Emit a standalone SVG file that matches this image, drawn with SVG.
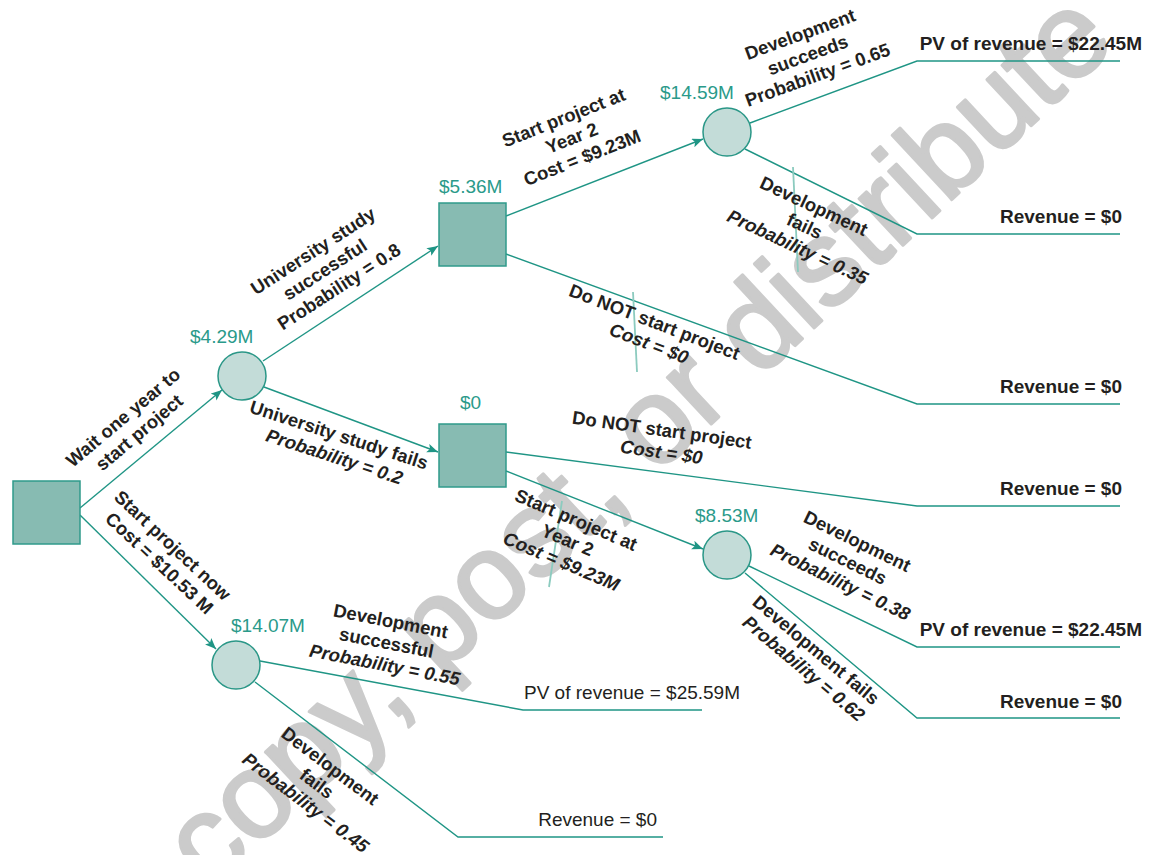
<svg xmlns="http://www.w3.org/2000/svg" width="1152" height="855" viewBox="0 0 1152 855">
  <style>
    .wm { font: 121px 'Liberation Sans', Arial, sans-serif; fill: #cbcbcb; stroke: #cbcbcb; stroke-width: 3; stroke-linejoin: round; text-anchor: middle; }
    .edge { fill: none; stroke: #1f9585; stroke-width: 1.4; }
    .arrow { marker-end: url(#head); }
    .stray { stroke: #8ccbbf; stroke-width: 1.8; }
    .dec { fill: #87bbb2; stroke: #2f9a8b; stroke-width: 1.5; }
    .chance { fill: #c3dcd8; stroke: #2a9787; stroke-width: 1.5; }
    .val { font: 19px 'Liberation Sans', Arial, sans-serif; fill: #2a9a8a; }
    .lbl { font: bold 18.5px 'Liberation Sans', Arial, sans-serif; fill: #231f20; text-anchor: middle; }
    .it { font-style: italic; }
    .pay { font: bold 19px 'Liberation Sans', Arial, sans-serif; fill: #231f20; text-anchor: end; }
    .payr { font: 19px 'Liberation Sans', Arial, sans-serif; fill: #231f20; }
  </style>
  <defs>
    <marker id="head" markerUnits="userSpaceOnUse" markerWidth="12" markerHeight="10" refX="11" refY="4.5" orient="auto">
      <path d="M0,0 L11,4.5 L0,9 L2.5,4.5 Z" fill="#1f9585"/>
    </marker>
  </defs>

  <rect width="1152" height="855" fill="#ffffff"/>

  <!-- background notice -->
  <text class="wm" transform="translate(664,468) rotate(-43)">copy, post, or distribute</text>

  <!-- connectors -->
  <g id="connectors">
    <path class="edge arrow" d="M80,508 L222,390"/>
    <path class="edge arrow" d="M80,515 L216,649"/>
    <path class="edge arrow" d="M263,361 L438,246"/>
    <path class="edge arrow" d="M264,387 L438,452"/>
    <path class="edge arrow" d="M506,216 L703,139"/>
    <path class="edge" d="M750,123 L917,61 H1120"/>
    <path class="edge" d="M745,149 L917,234 H1120"/>
    <path class="edge" d="M506,254 L917,404 H1120"/>
    <path class="edge" d="M506,452 L917,506 H1120"/>
    <path class="edge arrow" d="M506,471 L703,549"/>
    <path class="edge" d="M749,566 L917,647 H1120"/>
    <path class="edge" d="M745,573 L917,718 H1120"/>
    <path class="edge" d="M260,661 L523,710 H702"/>
    <path class="edge" d="M255,682 L458,837 H663"/>
    <!-- thin light rules across some labels -->
    <line class="stray" x1="793" y1="167" x2="798" y2="272"/>
    <line class="stray" x1="633" y1="292" x2="637" y2="372"/>
    <line class="stray" x1="562" y1="501" x2="549" y2="587"/>
  </g>

  <!-- decision and chance nodes -->
  <g id="root">
    <rect class="dec" x="13" y="481" width="67" height="63"/>
  </g>
  <g id="chance-study">
    <circle class="chance" cx="242" cy="376" r="24"/>
    <text class="val" x="190" y="343">$4.29M</text>
  </g>
  <g id="decision-success">
    <rect class="dec" x="439" y="203" width="67" height="63"/>
    <text class="val" x="439" y="193">$5.36M</text>
  </g>
  <g id="decision-fail">
    <rect class="dec" x="439" y="424" width="67" height="63"/>
    <text class="val" x="460" y="409">$0</text>
  </g>
  <g id="chance-dev-a">
    <circle class="chance" cx="727" cy="132" r="24"/>
    <text class="val" x="660" y="99">$14.59M</text>
  </g>
  <g id="chance-dev-b">
    <circle class="chance" cx="727" cy="555" r="24"/>
    <text class="val" x="695" y="522">$8.53M</text>
  </g>
  <g id="chance-dev-now">
    <circle class="chance" cx="236" cy="665" r="24"/>
    <text class="val" x="231" y="632">$14.07M</text>
  </g>

  <!-- branch labels -->
  <g id="branch-labels">
    <text class="lbl" transform="translate(132,424) rotate(-40)">
      <tspan x="0" y="-4.5">Wait one year to</tspan>
      <tspan x="0" y="17.5">start project</tspan>
    </text>
    <text class="lbl" transform="translate(167,555) rotate(43)">
      <tspan x="0" y="-4.5">Start project now</tspan>
      <tspan x="0" y="17.5">Cost = $10.53 M</tspan>
    </text>
    <text class="lbl" transform="translate(327,268) rotate(-33)">
      <tspan x="0" y="-15.5">University study</tspan>
      <tspan x="0" y="6.5">successful</tspan>
      <tspan x="0" y="28.5">Probability = 0.8</tspan>
    </text>
    <text class="lbl" transform="translate(338,446) rotate(18)">
      <tspan x="0" y="-4.5">University study fails</tspan>
      <tspan class="it" x="0" y="17.5">Probability = 0.2</tspan>
    </text>
    <text class="lbl" transform="translate(574,137) rotate(-21.5)">
      <tspan x="0" y="-15.5">Start project at</tspan>
      <tspan x="0" y="6.5">Year 2</tspan>
      <tspan x="0" y="28.5">Cost = $9.23M</tspan>
    </text>
    <text class="lbl" transform="translate(810,54) rotate(-20)">
      <tspan x="0" y="-15.5">Development</tspan>
      <tspan x="0" y="6.5">succeeds</tspan>
      <tspan x="0" y="28.5">Probability = 0.65</tspan>
    </text>
    <text class="lbl" transform="translate(807,227) rotate(25)">
      <tspan x="0" y="-15.5">Development</tspan>
      <tspan x="0" y="6.5">fails</tspan>
      <tspan class="it" x="0" y="28.5">Probability = 0.35</tspan>
    </text>
    <text class="lbl" transform="translate(653,333) rotate(21)">
      <tspan x="0" y="-4.5">Do NOT start project</tspan>
      <tspan class="it" x="0" y="17.5">Cost = $0</tspan>
    </text>
    <text class="lbl" transform="translate(663,441) rotate(8)">
      <tspan x="0" y="-4.5">Do NOT start project</tspan>
      <tspan class="it" x="0" y="17.5">Cost = $0</tspan>
    </text>
    <text class="lbl" transform="translate(570,541) rotate(23)">
      <tspan x="0" y="-15.5">Start project at</tspan>
      <tspan x="0" y="6.5">Year 2</tspan>
      <tspan class="it" x="0" y="28.5">Cost = $9.23M</tspan>
    </text>
    <text class="lbl" transform="translate(850,562) rotate(26)">
      <tspan x="0" y="-15.5">Development</tspan>
      <tspan x="0" y="6.5">succeeds</tspan>
      <tspan class="it" x="0" y="28.5">Probability = 0.38</tspan>
    </text>
    <text class="lbl" transform="translate(811,660) rotate(40)">
      <tspan x="0" y="-4.5">Development fails</tspan>
      <tspan class="it" x="0" y="17.5">Probability = 0.62</tspan>
    </text>
    <text class="lbl" transform="translate(389,643) rotate(11)">
      <tspan x="0" y="-15.5">Development</tspan>
      <tspan x="0" y="6.5">successful</tspan>
      <tspan class="it" x="0" y="28.5">Probability = 0.55</tspan>
    </text>
    <text class="lbl" transform="translate(319,785) rotate(37)">
      <tspan x="0" y="-15.5">Development</tspan>
      <tspan x="0" y="6.5">fails</tspan>
      <tspan class="it" x="0" y="28.5">Probability = 0.45</tspan>
    </text>
  </g>

  <!-- payoffs -->
  <g id="payoffs">
    <text class="pay" x="1142" y="50">PV of revenue = $22.45M</text>
    <text class="pay" x="1122" y="223">Revenue = $0</text>
    <text class="pay" x="1122" y="393">Revenue = $0</text>
    <text class="pay" x="1122" y="495">Revenue = $0</text>
    <text class="pay" x="1142" y="636">PV of revenue = $22.45M</text>
    <text class="pay" x="1122" y="708">Revenue = $0</text>
    <text class="payr" x="524" y="699">PV of revenue = $25.59M</text>
    <text class="payr" x="657" y="826" text-anchor="end">Revenue = $0</text>
  </g>
</svg>
